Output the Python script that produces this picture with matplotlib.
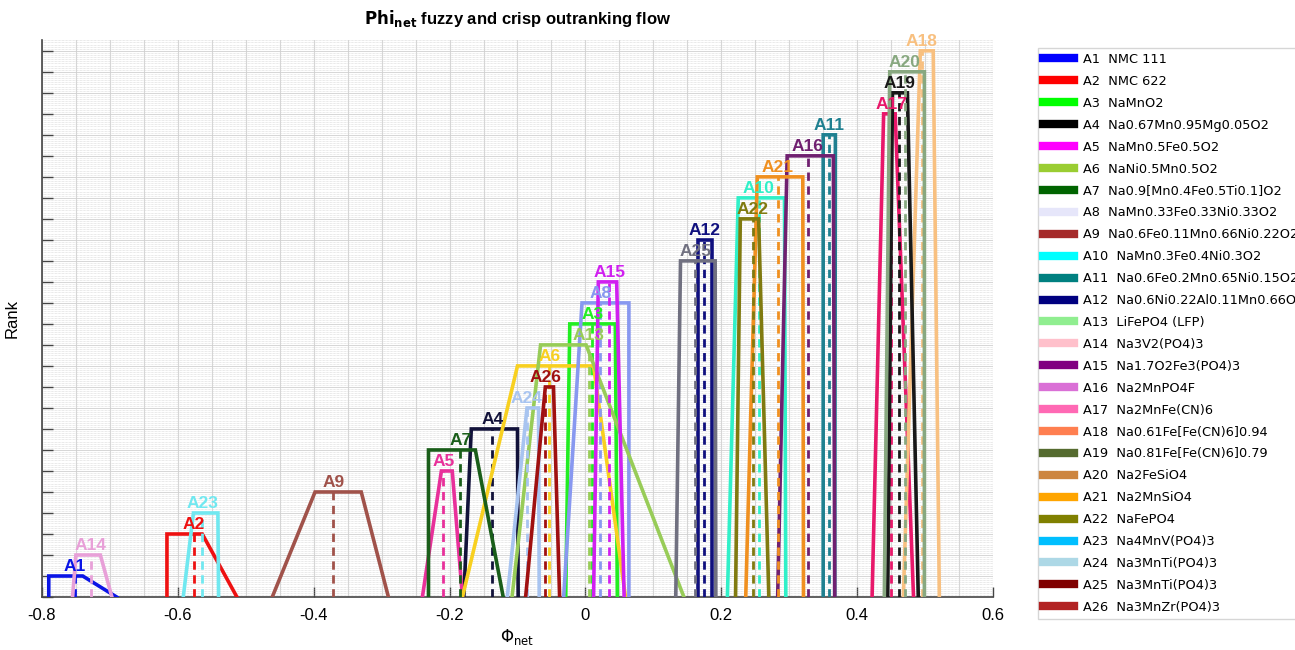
import numpy as np
import matplotlib
matplotlib.use("Agg")
import matplotlib.pyplot as plt
from matplotlib.lines import Line2D
from matplotlib.ticker import MultipleLocator

plt.rcParams["font.family"] = ["Liberation Sans", "DejaVu Sans"]

# alternatives (A1..A26) and legend descriptions
NAMES = [f"A{i}" for i in range(1, 27)]
MATERIALS = [
    "NMC 111", "NMC 622", "NaMnO2", "Na0.67Mn0.95Mg0.05O2", "NaMn0.5Fe0.5O2",
    "NaNi0.5Mn0.5O2", "Na0.9[Mn0.4Fe0.5Ti0.1]O2", "NaMn0.33Fe0.33Ni0.33O2",
    "Na0.6Fe0.11Mn0.66Ni0.22O2", "NaMn0.3Fe0.4Ni0.3O2", "Na0.6Fe0.2Mn0.65Ni0.15O2",
    "Na0.6Ni0.22Al0.11Mn0.66O2", "LiFePO4 (LFP)", "Na3V2(PO4)3", "Na1.7O2Fe3(PO4)3",
    "Na2MnPO4F", "Na2MnFe(CN)6", "Na0.61Fe[Fe(CN)6]0.94", "Na0.81Fe[Fe(CN)6]0.79",
    "Na2FeSiO4", "Na2MnSiO4", "NaFePO4", "Na4MnV(PO4)3", "Na3MnTi(PO4)3",
    "Na3MnTi(PO4)3", "Na3MnZr(PO4)3",
]

# rank (height of each trapezoid)
RANK = [1, 3, 13, 8, 6, 11, 7, 14, 5, 19, 22, 17, 12, 2, 15, 21, 23, 26, 24, 25,
        20, 18, 4, 9, 16, 10]

# fuzzy net flow: bottom-left, top-left, top-right, bottom-right
PHI_A = [-0.790, -0.616, -0.029, -0.179, -0.240, -0.181, -0.231, -0.032, -0.461, 0.209,
         0.350, 0.166, -0.108, -0.755, 0.012, 0.283, 0.422, 0.468, 0.445, 0.440,
         0.236, 0.221, -0.592, -0.115, 0.133, -0.088]
PHI_B = [-0.790, -0.616, -0.023, -0.168, -0.212, -0.100, -0.231, -0.005, -0.398, 0.225,
         0.350, 0.166, -0.066, -0.750, 0.019, 0.297, 0.439, 0.493, 0.452, 0.448,
         0.253, 0.228, -0.577, -0.086, 0.140, -0.059]
PHI_C = [-0.740, -0.564, 0.044, -0.100, -0.196, 0.012, -0.162, 0.064, -0.330, 0.293,
         0.368, 0.187, 0.001, -0.714, 0.046, 0.365, 0.456, 0.512, 0.474, 0.499,
         0.320, 0.255, -0.541, -0.069, 0.191, -0.047]
PHI_D = [-0.690, -0.513, 0.047, -0.099, -0.181, 0.059, -0.121, 0.064, -0.290, 0.295,
         0.367, 0.187, 0.145, -0.697, 0.057, 0.367, 0.483, 0.521, 0.490, 0.499,
         0.321, 0.270, -0.540, -0.068, 0.192, -0.038]

# crisp net flow
PHI_CRISP = [-0.752, -0.576, 0.010, -0.137, -0.209, -0.053, -0.184, 0.022, -0.371, 0.255,
             0.359, 0.175, 0.005, -0.728, 0.035, 0.327, 0.450, 0.495, 0.462, 0.470,
             0.283, 0.246, -0.564, -0.086, 0.162, -0.059]

# colours used for the drawn shapes
PLOT_COLORS = [
    "#0a14e6", "#ee1111", "#22ee22", "#12123a", "#e8309a", "#f8d020", "#1a5e1a",
    "#8898f0", "#a0524a", "#30f0c8", "#1f8090", "#10107e", "#98cc58", "#e8a0d8",
    "#d020f0", "#702070", "#e8186a", "#f8c080", "#181818", "#88a880", "#f09020",
    "#807a10", "#70e8f0", "#a8c4f0", "#707080", "#a01010",
]

# colours shown in the legend
LEGEND_COLORS = [
    "blue", "red", "lime", "black", "magenta", "yellowgreen", "darkgreen", "lavender",
    "brown", "cyan", "teal", "navy", "lightgreen", "pink", "purple", "orchid", "hotpink",
    "coral", "darkolivegreen", "peru", "orange", "olive", "deepskyblue", "lightblue",
    "maroon", "firebrick",
]

X_TICKS = [-0.8, -0.6, -0.4, -0.2, 0, 0.2, 0.4, 0.6]
X_TICK_LABELS = ["-0.8", "-0.6", "-0.4", "-0.2", "0", "0.2", "0.4", "0.6"]


def main() -> None:
    fig = plt.figure(figsize=(12.95, 6.5), dpi=100)
    ax = fig.add_axes([0.0324, 0.0815, 0.7344, 0.8565])

    for i, name in enumerate(NAMES):
        h = RANK[i]
        xs = [PHI_A[i], PHI_B[i], PHI_C[i], PHI_D[i]]
        ys = [0, h, h, 0]
        ax.plot(xs, ys, color=PLOT_COLORS[i], lw=2.6, solid_joinstyle="miter", zorder=3)
        ax.plot([PHI_CRISP[i], PHI_CRISP[i]], [0, h], color=PLOT_COLORS[i], lw=2.0,
                linestyle=(0, (3, 2)), zorder=3)
        ax.text(PHI_CRISP[i], h + 0.1, name, color=PLOT_COLORS[i], fontsize=12.5,
                fontweight="bold", ha="center", va="bottom", zorder=4)

    ax.set_xlim(-0.8, 0.6)
    ax.set_ylim(0, 26.5)
    ax.set_xticks(X_TICKS)
    ax.set_xticklabels(X_TICK_LABELS)
    ax.xaxis.set_minor_locator(MultipleLocator(0.05))
    ax.yaxis.set_major_locator(MultipleLocator(1))
    ax.yaxis.set_minor_locator(MultipleLocator(0.1))
    ax.set_yticklabels([])

    ax.tick_params(axis="both", which="major", direction="in", length=7, width=1,
                   color="#444444", labelsize=12, pad=8)
    ax.tick_params(axis="both", which="minor", length=0)
    ax.tick_params(axis="y", which="major", length=8)

    ax.grid(True, axis="x", which="both", color="#d6d6d6", lw=0.8)
    ax.grid(True, axis="y", which="minor", color="#d4d4d4", lw=0.5, linestyle=(0, (1, 1)))
    ax.grid(True, axis="y", which="major", color="#d0d0d0", lw=0.6)
    ax.set_axisbelow(True)

    for side in ("top", "right"):
        ax.spines[side].set_visible(False)
    for side in ("left", "bottom"):
        ax.spines[side].set_color("#444444")
        ax.spines[side].set_linewidth(1.2)

    ax.set_title(r"$\mathbf{Phi_{net}}$ fuzzy and crisp outranking flow", fontsize=12,
                 fontweight="bold", pad=12)
    ax.set_xlabel(r"$\Phi_{\mathrm{net}}$", fontsize=12, labelpad=3)
    ax.set_ylabel("Rank", fontsize=12)
    ax.yaxis.set_label_coords(-0.024, 0.5)

    handles = [Line2D([0], [0], color=c, lw=6) for c in LEGEND_COLORS]
    labels = [f"{n}  {m}" for n, m in zip(NAMES, MATERIALS)]
    fig.legend(handles, labels, loc="upper left", bbox_to_anchor=(0.8015, 0.926),
               borderaxespad=0.0, prop={"family": "DejaVu Sans", "size": 9.3},
               labelspacing=0.69, handlelength=2.45, handletextpad=0.62, borderpad=0.38,
               frameon=True, fancybox=False, edgecolor="#cccccc")

    fig.savefig("out.png", dpi=100)
    plt.close(fig)


if __name__ == "__main__":
    main()
